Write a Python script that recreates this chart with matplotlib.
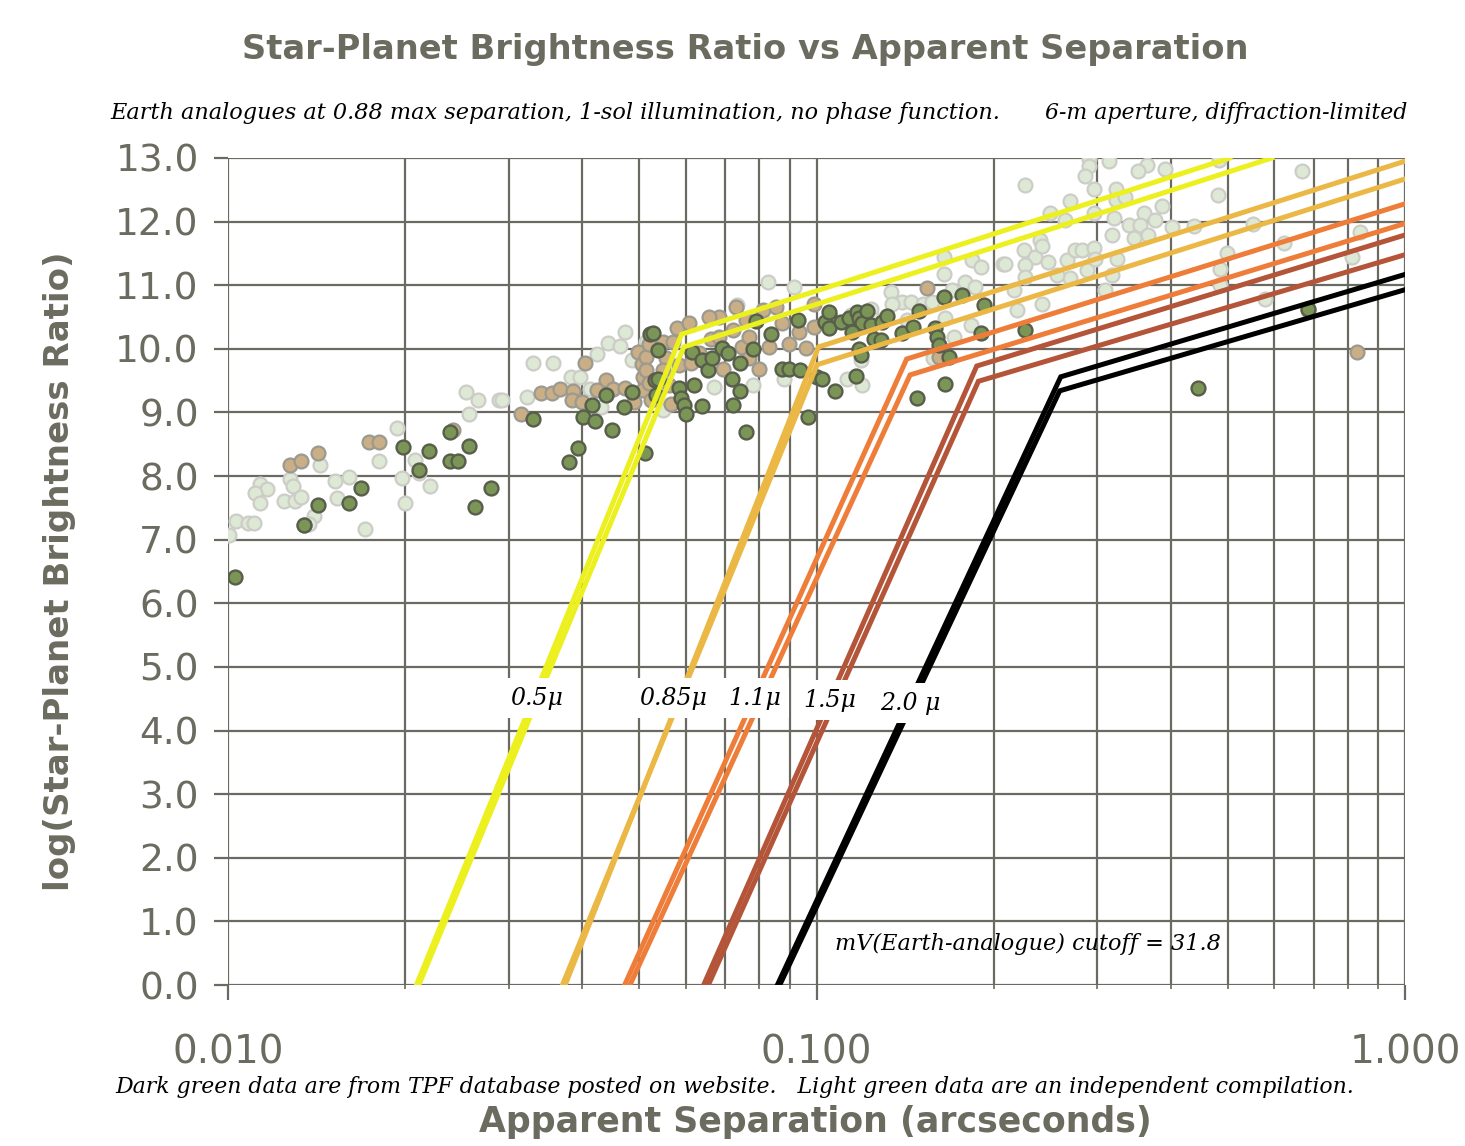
import matplotlib
matplotlib.use("Agg")
import matplotlib.pyplot as plt
import numpy as np
from matplotlib.ticker import FixedLocator, NullFormatter

# ---------------- data ----------------
# light-green series (independent compilation)
lg_x = [0.02535, 0.02655, 0.02886, 0.0257, 0.01936, 0.02075, 0.01803, 0.01432, 0.01277, 0.01289,
        0.01135, 0.01166, 0.01111, 0.01135, 0.01245, 0.0130, 0.01328, 0.01521, 0.01607, 0.01532,
        0.0140, 0.01375, 0.01033, 0.0108, 0.01107, 0.01004, 0.0171, 0.01973, 0.01995, 0.02203,
        0.0211,
        0.0473, 0.04416, 0.0463, 0.0424, 0.0330, 0.03565, 0.0322, 0.0292, 0.0383, 0.0397,
        0.0486, 0.0413, 0.0430,
        0.0826, 0.0916, 0.0734, 0.0670, 0.0780, 0.0881, 0.0548, 0.0513,
        0.1644, 0.184, 0.190, 0.2075, 0.1644, 0.179, 0.1337, 0.140, 0.1446, 0.1346,
        0.1514, 0.1574, 0.1702, 0.1862, 0.1236, 0.1268, 0.1426, 0.1656, 0.1143, 0.171,
        0.1828, 0.158, 0.1127, 0.1196, 0.1189,
        0.226, 0.29, 0.29, 0.3146, 0.3648, 0.3517, 0.3908, 0.2858, 0.296, 0.3222,
        0.27, 0.2493, 0.2642, 0.296, 0.3222, 0.32, 0.334, 0.36, 0.3864, 0.3766,
        0.4017, 0.339, 0.3548, 0.3664, 0.346, 0.3177, 0.24, 0.2249, 0.2355, 0.2265,
        0.2094, 0.2477, 0.2667, 0.2754, 0.2825, 0.296, 0.2884, 0.2977, 0.3246, 0.3177,
        0.27, 0.2563, 0.2265, 0.2163, 0.2415, 0.2193, 0.3097, 0.2415,
        0.4836, 0.6675, 0.4818, 0.5524, 0.4381, 0.4977, 0.4851, 0.6226, 0.838, 0.812,
        0.578, 0.4851]
lg_y = [9.32, 9.20, 9.20, 8.98, 8.76, 8.26, 8.24, 8.17, 7.96, 7.84,
        7.88, 7.79, 7.74, 7.57, 7.61, 7.61, 7.67, 7.92, 7.98, 7.65,
        7.37, 7.25, 7.29, 7.26, 7.26, 7.08, 7.17, 7.97, 7.57, 7.85,
        8.05,
        10.26, 10.09, 10.05, 9.92, 9.77, 9.77, 9.24, 9.19, 9.55, 9.55,
        9.83, 9.37, 9.08,
        11.05, 10.97, 10.69, 9.40, 9.43, 9.53, 9.04, 10.11,
        11.45, 11.39, 11.29, 11.33, 11.18, 11.05, 10.90, 10.74, 10.74, 10.71,
        10.71, 10.74, 10.92, 10.97, 10.63, 10.45, 10.45, 10.48, 10.53, 10.19,
        10.37, 9.85, 9.53, 9.43, 9.82,
        12.58, 12.98, 12.88, 12.95, 12.89, 12.79, 12.83, 12.72, 12.51, 12.51,
        12.32, 12.13, 12.03, 12.13, 12.34, 12.05, 12.39, 12.14, 12.24, 12.03,
        11.92, 11.95, 11.95, 11.79, 11.74, 11.79, 11.71, 11.55, 11.45, 11.32,
        11.34, 11.37, 11.39, 11.55, 11.55, 11.58, 11.24, 11.42, 11.42, 11.16,
        11.11, 11.16, 11.13, 10.92, 10.71, 10.61, 10.92, 11.61,
        12.97, 12.79, 12.42, 11.97, 11.93, 11.50, 11.26, 11.67, 11.84, 11.45,
        10.79, 11.00]

# tan series
tan_x = [0.01277, 0.01328, 0.01422, 0.01734, 0.01807, 0.01345, 0.02415,
         0.0340, 0.03556, 0.0367, 0.0386, 0.0384, 0.04035, 0.0439, 0.0424, 0.0451, 0.0473,
         0.0315, 0.0497, 0.0505, 0.0508, 0.0489, 0.0400, 0.0508,
         0.0513, 0.0520, 0.0548, 0.0570, 0.0555, 0.0513, 0.0548, 0.0520, 0.0562, 0.0523,
         0.0566, 0.0580, 0.0608, 0.0632, 0.0662, 0.0684, 0.0693, 0.0730, 0.0748, 0.0769,
         0.0810, 0.0831, 0.0853, 0.0875, 0.0899, 0.0935, 0.0960, 0.0798, 0.0585, 0.0613,
         0.0684, 0.0721, 0.0656, 0.0759, 0.0769,
         0.099, 0.099, 0.1056, 0.1542, 0.1614,
         0.685, 0.828]
tan_y = [8.17, 8.24, 8.36, 8.54, 8.54, 7.23, 8.72,
         9.30, 9.30, 9.37, 9.34, 9.19, 9.77, 9.51, 9.35, 9.37, 9.39,
         8.97, 9.95, 9.76, 9.55, 9.16, 9.16, 9.36,
         9.87, 10.08, 10.11, 10.11, 9.85, 9.66, 9.66, 9.46, 9.43, 9.19,
         9.14, 10.32, 10.40, 9.93, 10.16, 10.50, 9.69, 10.66, 10.03, 10.19,
         10.61, 10.03, 10.66, 10.40, 10.08, 10.27, 10.01, 9.69, 9.74, 9.77,
         10.19, 10.29, 10.50, 10.45, 9.85,
         10.71, 10.35, 10.50, 10.95, 9.87,
         10.61, 9.95]

# dark-green series (TPF database)
dg_x = [0.01981, 0.02192, 0.0257, 0.02384, 0.02455, 0.0211, 0.02384, 0.0280, 0.0263, 0.01683,
        0.01603, 0.01422, 0.01345, 0.01028,
        0.0521, 0.0439, 0.0416, 0.0471, 0.0330, 0.0401, 0.0420, 0.0450, 0.0394, 0.0379,
        0.0532, 0.0486, 0.0512,
        0.0527, 0.0537, 0.0537, 0.0533, 0.0585, 0.0588, 0.0596, 0.0600, 0.0620, 0.0615,
        0.0640, 0.0653, 0.0640, 0.0665, 0.0692, 0.0706, 0.0719, 0.0742, 0.0742, 0.0721,
        0.0780, 0.0789, 0.0837, 0.0874, 0.0899, 0.0937, 0.0929, 0.0966, 0.0759, 0.1000,
        0.1035, 0.1050, 0.1050, 0.1100, 0.1135, 0.1173, 0.1180, 0.1196, 0.1220, 0.1236,
        0.1250, 0.1285, 0.1294, 0.1318, 0.1150, 0.1180, 0.1189, 0.1400, 0.1456, 0.1493,
        0.1592, 0.1603, 0.1614, 0.1644, 0.1770, 0.1923, 0.1900, 0.1679, 0.1165, 0.1023,
        0.1077, 0.1656, 0.1483,
        0.2265, 0.4457, 0.685]
dg_y = [8.45, 8.39, 8.48, 8.24, 8.24, 8.10, 8.69, 7.81, 7.52, 7.81,
        7.58, 7.54, 7.23, 6.42,
        10.24, 9.28, 9.11, 9.08, 8.90, 8.93, 8.87, 8.72, 8.44, 8.22,
        9.51, 9.32, 8.36,
        10.25, 9.98, 9.53, 9.27, 9.38, 9.22, 9.12, 8.97, 9.43, 9.95,
        9.83, 9.66, 9.10, 9.86, 10.02, 9.93, 9.52, 9.77, 9.34, 9.12,
        9.99, 10.44, 10.24, 9.68, 9.68, 9.66, 10.45, 8.93, 8.70, 9.56,
        10.42, 10.58, 10.32, 10.42, 10.48, 10.58, 10.48, 10.41, 10.60, 10.37,
        10.16, 10.14, 10.42, 10.51, 10.27, 10.00, 9.90, 10.25, 10.34, 10.60,
        10.32, 10.19, 10.06, 10.81, 10.84, 10.69, 10.25, 9.87, 9.57, 9.53,
        9.34, 9.44, 9.22,
        10.29, 9.39, 10.62]

# detection-limit curves
wavelengths = ["0.5\u03bc", "0.85\u03bc", "1.1\u03bc", "1.5\u03bc", "2.0 \u03bc"]
line_colors = ["#ecf01e", "#ebb845", "#ee7d3a", "#b4553a", "#000000"]
upper_x = [[0.0209, 0.0590, 0.504], [0.0374, 0.1008, 1.0], [0.0472, 0.1423, 1.0],
           [0.0643, 0.1872, 1.0], [0.0858, 0.2600, 1.0]]
upper_y = [[0.0, 10.23, 13.0], [0.0, 10.03, 12.95], [0.0, 9.84, 12.28],
           [0.0, 9.73, 11.79], [0.0, 9.56, 11.17]]
lower_x = [[0.0211, 0.0595, 0.594], [0.0370, 0.1002, 1.0], [0.0482, 0.1442, 1.0],
           [0.0655, 0.1884, 1.0], [0.0866, 0.2590, 1.0]]
lower_y = [[0.0, 10.03, 13.0], [0.0, 9.75, 12.67], [0.0, 9.59, 11.97],
           [0.0, 9.49, 11.48], [0.0, 9.34, 10.93]]
label_x = [0.0335, 0.0570, 0.0785, 0.1054, 0.1446]
label_y = [4.51, 4.51, 4.51, 4.48, 4.43]

x_ticks = [0.01, 0.1, 1.0]
x_ticklabels = ["0.010", "0.100", "1.000"]
y_ticks = list(np.arange(0, 14, 1.0))

# ---------------- figure ----------------
GRID = "#6a6a62"
TXT = "#6b6b60"
SERIF = "DejaVu Serif"
fig = plt.figure(figsize=(14.65, 11.46), dpi=100)
ax = fig.add_axes([228 / 1465, 1 - 985 / 1146, (1405 - 228) / 1465, (985 - 158) / 1146])
ax.set_xscale("log")
ax.set_xlim(0.01, 1.0)
ax.set_ylim(0, 13)

for s in ax.spines.values():
    s.set_visible(False)

minor = [m * 10.0 ** e for e in (-2, -1) for m in range(2, 10)]
ax.xaxis.set_major_locator(FixedLocator(x_ticks))
ax.xaxis.set_minor_locator(FixedLocator(minor))
ax.xaxis.set_minor_formatter(NullFormatter())
ax.set_xticklabels(x_ticklabels)
ax.set_yticks(y_ticks)
ax.set_yticklabels([f"{v:.1f}" for v in y_ticks])

ax.grid(True, which="both", axis="x", color=GRID, lw=1.6, zorder=0)
ax.grid(True, which="major", axis="y", color=GRID, lw=1.6, zorder=0)
ax.set_axisbelow(True)

ax.tick_params(axis="x", which="major", length=11, width=1.6, color=GRID, pad=24,
               labelsize=28, labelcolor=TXT)
ax.tick_params(axis="x", which="minor", length=3, width=1.2, color=GRID)
ax.tick_params(axis="y", which="major", length=10, width=1.6, color=GRID, pad=11,
               labelsize=27, labelcolor=TXT)

# scatter
ax.scatter(lg_x, lg_y, s=100, c="#dde8d5", edgecolors="#cdcdc8", linewidths=1.6, zorder=2)
ax.scatter(tan_x, tan_y, s=100, c="#c9ae86", edgecolors="#9c9a90", linewidths=1.6, zorder=3)
ax.scatter(dg_x, dg_y, s=100, c="#7a9555", edgecolors="#585e4c", linewidths=1.7, zorder=4)

# limit curves
for i, col in enumerate(line_colors):
    ax.plot(upper_x[i], upper_y[i], color=col, lw=3.6, solid_joinstyle="miter", zorder=5)
    ax.plot(lower_x[i], lower_y[i], color=col, lw=3.6, solid_joinstyle="miter", zorder=5)
    ax.text(label_x[i], label_y[i], wavelengths[i], fontsize=17, style="italic",
            family=SERIF, ha="center", va="center", color="black", zorder=7,
            bbox=dict(boxstyle="square,pad=0.35", fc="white", ec="none"))

ax.text(0.1075, 0.65, "mV(Earth-analogue) cutoff = 31.8", fontsize=16.1, style="italic",
        family=SERIF, ha="left", va="center", color="black", zorder=7)

# texts
fig.text(745 / 1465, 1 - 50 / 1146, "Star-Planet Brightness Ratio vs Apparent Separation",
         ha="center", va="center", fontsize=24.2, fontweight="bold", color=TXT)
fig.text(110 / 1465, 1 - 113 / 1146,
         "Earth analogues at 0.88 max separation, 1-sol illumination, no phase function.",
         ha="left", va="center", fontsize=16.1, style="italic", family=SERIF, color="black")
fig.text(1407 / 1465, 1 - 113 / 1146, "6-m aperture, diffraction-limited",
         ha="right", va="center", fontsize=15.8, style="italic", family=SERIF, color="black")
fig.text(115 / 1465, 1 - 1087 / 1146,
         "Dark green data are from TPF database posted on website.   Light green data are an independent compilation.",
         ha="left", va="center", fontsize=15.8, style="italic", family=SERIF, color="black")
fig.text(815 / 1465, 1 - 1122 / 1146, "Apparent Separation (arcseconds)",
         ha="center", va="center", fontsize=25, fontweight="bold", color=TXT)
fig.text(60 / 1465, 1 - 571 / 1146, "log(Star-Planet Brightness Ratio)",
         ha="center", va="center", rotation=90, fontsize=24.5, fontweight="bold", color=TXT)

fig.savefig("out.png", dpi=100)
